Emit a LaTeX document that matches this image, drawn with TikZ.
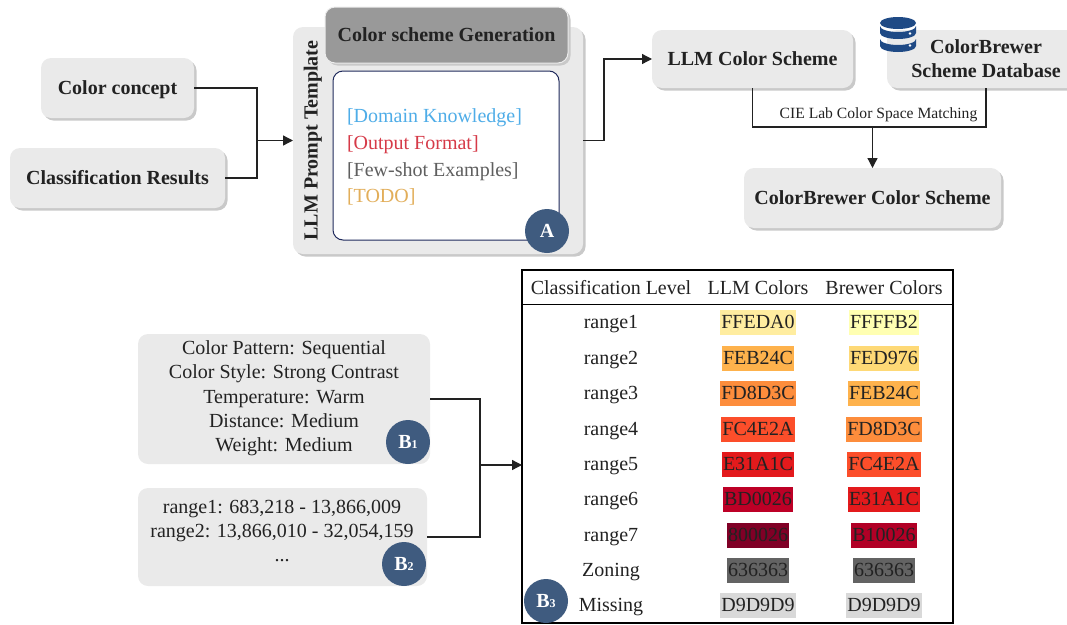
\documentclass[tikz,border=0pt]{standalone}
\usepackage{fontspec}
\setmainfont{Liberation Serif}
\usetikzlibrary{arrows.meta,shadows}
\definecolor{boxgray}{HTML}{EAEAEA}
\definecolor{shadowgray}{HTML}{C9C9C9}
\definecolor{gengray}{HTML}{999999}
\definecolor{ink}{HTML}{222222}
\definecolor{badgeblue}{HTML}{3F5B7F}
\definecolor{navy}{HTML}{1F2A5C}
\definecolor{dbblue}{HTML}{1F4A85}
\newcommand{\fs}{\fontsize{20}{24.3}\selectfont}
\tikzset{
  x=1pt,y=-1pt,
  every node/.style={font=\fs,text=ink,inner sep=0pt,outer sep=0pt},
  sized/.style 2 args={minimum width=#1,minimum height=#2},
  sbox/.style={fill=boxgray,rounded corners=10pt,
    general shadow={shadow xshift=2.5pt,shadow yshift=-2.5pt,fill=shadowgray,opacity=1}},
  flat/.style={fill=boxgray,rounded corners=10pt},
  capc/.style={text height=13pt,text depth=0pt},
  bold/.style={font=\fs\bfseries},
  conn/.style={draw=ink,line width=1.3pt,line join=miter},
  arr/.style={conn,-{Triangle[length=10pt,width=10pt]}},
  badge/.style={circle,fill=badgeblue,minimum size=44pt,text=white,font=\fs\bfseries},
  swatch/.style={minimum height=25pt,inner xsep=1pt,capc},
  lab/.style={anchor=base}
}
\begin{document}
\begin{tikzpicture}
\useasboundingbox (0,0) rectangle (1067,624);
\clip (0,0) rectangle (1067,624);
% left inputs
\node[sbox,bold,capc,sized={153pt}{60pt}] (concept) at (117.5,88) {Color concept};
\node[sbox,bold,capc,sized={215pt}{60pt}] (classif) at (117.5,178) {Classification Results};
% prompt template
\node[sbox,sized={290pt}{227pt}] (prompt) at (438,140.5) {};
\node[bold,rotate=90,capc] (prompttitle) at (311,140.5) {LLM Prompt Template};
\node[fill=gengray,draw=white!85!gray,line width=1pt,rounded corners=10pt,capc,bold,sized={243pt}{56pt},
  general shadow={shadow xshift=2.5pt,shadow yshift=-2.5pt,fill=shadowgray,opacity=1}] (gen) at (446.5,35) {Color scheme Generation};
\node[fill=white,draw=navy,line width=1pt,rounded corners=10pt,sized={226pt}{169pt}] (card) at (446,155.5) {};
\node[anchor=base west,text={rgb,255:red,79;green,173;blue,232}] (t1) at (347,122) {[Domain Knowledge]};
\node[anchor=base west,text={rgb,255:red,214;green,58;blue,72}] (t2) at (347,149) {[Output Format]};
\node[anchor=base west,text={rgb,255:red,95;green,95;blue,95}] (t3) at (347,176) {[Few-shot Examples]};
\node[anchor=base west,text={rgb,255:red,226;green,174;blue,90}] (t4) at (347,202) {[TODO]};
\node[badge] (badgeA) at (547,231) {A};
% right top
\node[sbox,bold,capc,sized={201pt}{58pt}] (llm) at (752.5,59) {LLM Color Scheme};
\node[sbox,sized={198pt}{58pt}] (db) at (986,59) {};
\node[bold,align=center] (dbtext) at (986,59) {ColorBrewer\\Scheme Database};
\node[sbox,bold,capc,sized={257pt}{60pt}] (brewer) at (872.5,198) {ColorBrewer Color Scheme};
% database icon
\fill[dbblue] (880,23) arc[start angle=180,end angle=360,x radius=18,y radius=6] -- (916,23) arc[start angle=0,end angle=180,x radius=18,y radius=6] -- cycle;
\fill[dbblue] (880,26) arc[start angle=180,end angle=0,x radius=18,y radius=6] -- (916,33) arc[start angle=0,end angle=180,x radius=18,y radius=6] -- cycle;
\fill[dbblue] (880,39) arc[start angle=180,end angle=0,x radius=18,y radius=6] -- (916,46) arc[start angle=0,end angle=180,x radius=18,y radius=6] -- cycle;
\fill[white] (910,33.5) circle[radius=1.3] (910,45.5) circle[radius=1.3];
% table
\node[draw=black,line width=2pt,fill=white,sized={431pt}{353pt}] (table) at (737.5,446.5) {};
\coordinate (hdr) at (737.5,304);
\draw[line width=1pt,black] (table.west |- hdr) -- (table.east |- hdr);
\node[lab] (h1) at (611,294.5) {Classification Level};
\node[lab] (h2) at (758,294.5) {LLM Colors};
\node[lab] (h3) at (884,294.5) {Brewer Colors};
\foreach \n/\y/\name/\a/\b in {1/322.3/range1/FFEDA0/FFFFB2,2/358.3/range2/FEB24C/FED976,3/393.3/range3/FD8D3C/FEB24C,4/429.3/range4/FC4E2A/FD8D3C,5/464.3/range5/E31A1C/FC4E2A,6/499.3/range6/BD0026/E31A1C,7/535.3/range7/800026/B10026,8/570.3/Zoning/636363/636363,9/605.3/Missing/D9D9D9/D9D9D9}{
  \definecolor{ca}{HTML}{\a}\definecolor{cb}{HTML}{\b}
  \node[lab] (r\n) at (611,\y+6.5) {\name};
  \node[swatch,fill=ca] (a\n) at (758,\y) {\a};
  \node[swatch,fill=cb] (b\n) at (884,\y) {\b};
}
\node[badge] (badgeB3) at (546,601) {B\fontsize{12}{12}\selectfont 3};
% B boxes
\node[flat,sized={292pt}{130pt}] (bone) at (284,399) {};
\node[align=center] (bonetext) at (284,398.5) {Color Pattern: Sequential\\Color Style: Strong Contrast\\Temperature: Warm\\Distance: Medium\\Weight: Medium};
\node[badge] (badgeB1) at (408,442) {B\fontsize{12}{12}\selectfont 1};
\node[flat,sized={289pt}{98pt}] (btwo) at (282.5,537) {};
\node[align=center] (btwotext) at (282,531) {range1: 683,218 - 13,866,009\\range2: 13,866,010 - 32,054,159\\...};
\node[badge] (badgeB2) at (404,564) {B\fontsize{12}{12}\selectfont 2};
% connectors
\coordinate (j1) at (257,140.5);
\coordinate (j2) at (604,140.5);
\coordinate (j3) at (872.5,127);
\coordinate (j4) at (480,465);
\draw[conn] (concept.east) -| (j1);
\draw[conn] (classif.east) -| (j1);
\draw[arr] (j1) -- (prompt.west);
\draw[arr] (prompt.east) -- (j2) |- (llm.west);
\draw[conn] (llm.south) |- (j3);
\draw[conn] (db.south) |- (j3);
\draw[arr] (j3) -- (brewer.north);
\draw[conn] (bone.east) -| (j4);
\draw[conn] (btwo.east) -| (j4);
\draw[arr] (j4) -- (table.west |- j4);
\node[font=\fontsize{15.6}{18}\selectfont] (cie) at (878.5,115) {CIE Lab Color Space Matching};
\end{tikzpicture}
\end{document}
